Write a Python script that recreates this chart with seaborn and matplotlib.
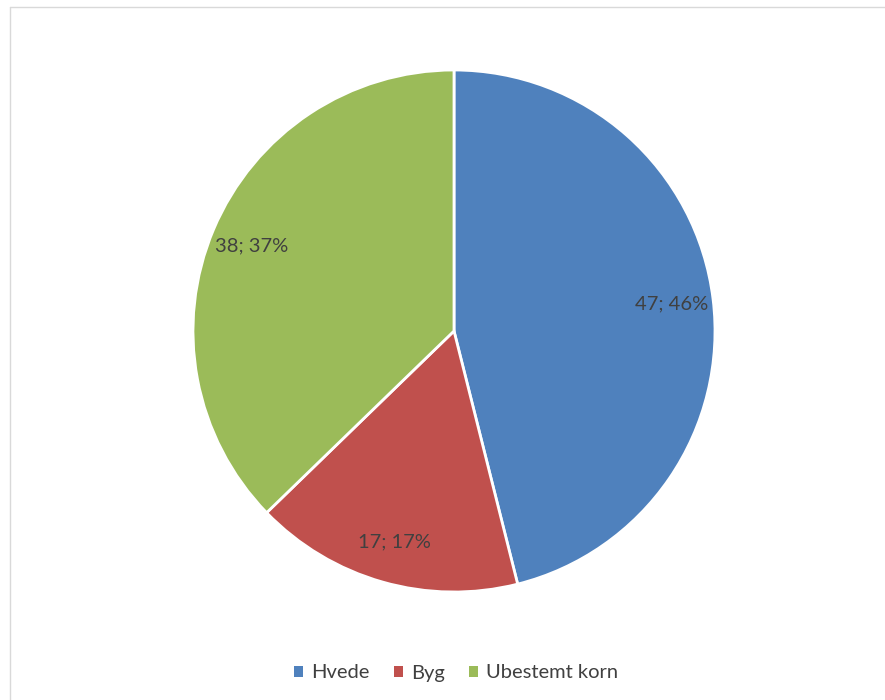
import matplotlib
matplotlib.use("Agg")
import matplotlib.pyplot as plt
from matplotlib.lines import Line2D
from matplotlib.patches import Patch
import seaborn as sns

categories = ["Hvede", "Byg", "Ubestemt korn"]
values = [47, 17, 38]
colors = ["#4F81BD", "#C0504D", "#9BBB59"]

sns.set_theme(style="white")
plt.rcParams["font.family"] = ["Lato", "DejaVu Sans"]
palette = sns.color_palette(colors)

W, H = 885, 700
fig = plt.figure(figsize=(W / 100, H / 100), dpi=100)
cx, cy, r = 454, 331, 261
ax = fig.add_axes([(cx - r) / W, 1 - (cy + r) / H, 2 * r / W, 2 * r / H])

total = sum(values)
def fmt(p):
    v = round(p * total / 100)
    return f"{v}; {round(p)}%"

wedges, texts, autotexts = ax.pie(
    values, colors=palette, startangle=90, counterclock=False,
    autopct=fmt, pctdistance=0.84, radius=1,
    wedgeprops=dict(edgecolor="white", linewidth=2),
    textprops=dict(color="#404040", fontsize=14.5),
)
ax.set_xlim(-1, 1)
ax.set_ylim(-1, 1)
ax.set_aspect("equal")
ax.axis("off")

handles = [Patch(facecolor=c, edgecolor="none") for c in palette]
fig.legend(handles, categories, loc="center", bbox_to_anchor=(456 / W, 1 - 673 / H),
           ncol=3, frameon=False, fontsize=14.5, handlelength=0.45, handleheight=0.45,
           handletextpad=0.4, columnspacing=1.2, labelcolor="#404040")

# chart area border (light gray, partially visible)
fig.add_artist(Line2D([10 / W, 10 / W], [0, 1 - 7 / H], transform=fig.transFigure,
                      color="#D9D9D9", linewidth=1))
fig.add_artist(Line2D([10 / W, 1], [1 - 7 / H, 1 - 7 / H], transform=fig.transFigure,
                      color="#D9D9D9", linewidth=1))

fig.savefig("out.png", dpi=100, facecolor="white")
